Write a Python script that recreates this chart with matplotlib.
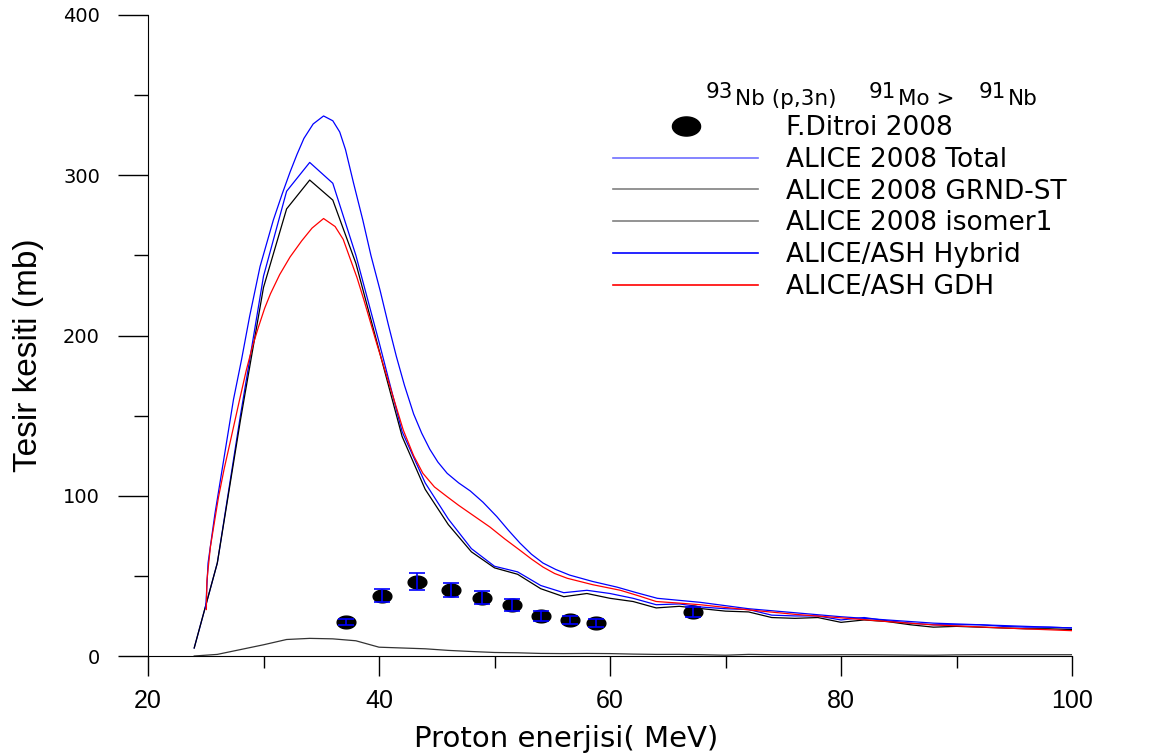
import numpy as np
import matplotlib
matplotlib.use('Agg')
import matplotlib.pyplot as plt
from matplotlib.path import Path
from matplotlib.lines import Line2D

# ALICE 2008 hesaplari (2 MeV adim)
e_alice = [24, 26, 28, 30, 32, 34, 36, 38, 40, 42, 44, 46, 48, 50, 52, 54, 56, 58, 60, 62,
           64, 66, 68, 70, 72, 74, 76, 78, 80, 82, 84, 86, 88, 90, 92, 94, 96, 98, 100]
alice_total = [5, 58, 150, 237, 290, 308, 295, 250, 196, 140, 108, 85.5, 67, 56, 52.5, 44, 39.5, 41, 39, 36,
               32, 32.5, 30.5, 29.5, 29, 25.5, 25, 25, 22.5, 24, 22, 20.5, 19.5, 19.5, 19.5, 18.5, 18, 18, 17.5]
alice_grnd = [5, 58, 147, 230, 279, 297, 284.5, 245, 191, 137, 104, 82, 65, 55, 51, 42, 37, 39, 36, 34,
              30, 31, 29.5, 28, 27.5, 24, 23.5, 24, 21, 22.5, 21.5, 19.5, 18, 18.5, 18, 17.5, 17, 17, 16.5]
alice_iso = [0, 1, 4, 7, 10.3, 11, 10.7, 9.5, 5.5, 5, 4.5, 3.5, 2.8, 2.2, 2, 1.6, 1.5, 1.6, 1.5, 1.2,
             1.0, 1.0, 0.8, 0.5, 1.0, 0.8, 0.7, 0.7, 0.8, 0.8, 0.7, 0.6, 0.5, 0.7, 0.8, 0.8, 0.8, 0.8, 0.8]

# ALICE/ASH Hybrid
e_hyb = [25.0, 25.2, 25.8, 26.5, 27.4, 28.1, 28.8, 29.7, 30.85, 31.6, 32.3, 32.9, 33.5, 34.3, 35.2, 36.0,
         36.6, 37.1, 37.8, 38.6, 39.3, 40.1, 40.8, 41.5, 42.2, 43.0, 43.7, 44.4, 45.1, 45.9, 46.9, 47.9,
         49.0, 50.2, 51.2, 52.2, 53.2, 54.2, 55.3, 56.5, 58.5, 60.6, 62.3, 64.1, 67.8, 72, 76, 80, 84, 88,
         94, 100]
hyb = [30, 58, 89, 120, 160, 185, 212, 243, 272, 288, 302, 313, 323, 332, 337, 334,
       327, 316, 295, 272, 250, 228, 207, 187, 169, 151, 139, 129, 121, 114, 108, 103,
       96, 87, 78.5, 70.5, 63.5, 58, 54, 50.5, 46.5, 43, 39.5, 36, 33.5, 29.5, 27, 24.5, 22.5, 20.5,
       19, 17.5]

# ALICE/ASH GDH
e_gdh = [25.05, 25.1, 25.4, 26.1, 26.6, 27.1, 27.9, 28.5, 29.0, 29.55, 30.1, 30.6, 31.4, 32.3, 33.3, 34.2,
         35.2, 36.2, 36.9, 37.5, 38.1, 38.7, 39.8, 41.0, 42.1, 43.0, 43.8, 44.8, 45.9, 46.9, 47.9, 49.6,
         50.9, 52.2, 53.2, 54.2, 55.2, 56.3, 58.5, 60.9, 62.5, 64, 66, 67.8, 72.1, 76, 80.2, 84, 88, 94, 100]
gdh = [29, 47, 68, 99, 117, 133, 159, 178, 192, 205, 217, 226, 238, 249, 259, 267,
       273, 268, 260, 248, 236, 222, 195, 167, 141, 125, 114, 105.5, 99.4, 94, 89, 80.5,
       73, 66, 60.5, 55.5, 51.5, 48.5, 44.5, 41, 37.5, 34, 33, 32, 28.7, 26, 23.7, 21.5, 19.4, 17.5, 15.8]

# F.Ditroi 2008 deney verisi
e_exp = [37.1, 40.3, 43.3, 46.2, 48.9, 51.5, 54.0, 56.5, 58.8, 67.2]
sig_exp = [21.4, 37.6, 46.4, 41.2, 36.4, 31.8, 25.2, 22.5, 20.8, 27.6]
err_exp = [2.0, 4.2, 5.2, 4.4, 4.0, 3.8, 3.1, 2.7, 2.6, 3.1]

legend_labels = ['F.Ditroi 2008', 'ALICE 2008 Total', 'ALICE 2008 GRND-ST', 'ALICE 2008 isomer1',
                 'ALICE/ASH Hybrid', 'ALICE/ASH GDH']

plt.rcParams['font.family'] = ['Liberation Sans', 'DejaVu Sans']

# elips seklinde isaret
t = np.linspace(0, 2 * np.pi, 60)
ellipse = Path(np.column_stack([np.cos(t), 0.68 * np.sin(t)]), closed=True)

W, H = 1164, 756
fig = plt.figure(figsize=(W / 100, H / 100), dpi=100)
ax = fig.add_axes([148 / W, 1 - 656 / H, (1072 - 148) / W, (656 - 15) / H])

lw = 0.9
ax.plot(e_alice, alice_total, color='blue', lw=lw)
ax.plot(e_alice, alice_grnd, color='black', lw=lw)
ax.plot(e_alice, alice_iso, color='#333333', lw=lw)
ax.plot(e_hyb, hyb, color='blue', lw=lw)
ax.plot(e_gdh, gdh, color='red', lw=lw)
ax.plot(e_exp, sig_exp, ls='none', marker=ellipse, ms=13.5, color='black', zorder=4)
eb = ax.errorbar(e_exp, sig_exp, yerr=err_exp, fmt='none', ecolor='blue', elinewidth=1.2,
                 capsize=5.5, capthick=1.2, zorder=5)
for cap in eb[1]:
    cap.set_color('#5c5cff')

ax.set_xlim(20, 100)
ax.set_ylim(0, 400)
for s in ['top', 'right']:
    ax.spines[s].set_visible(False)
ax.set_xticks([20, 40, 60, 80, 100])
ax.set_xticks([30, 50, 70, 90], minor=True)
ax.set_yticks([0, 100, 200, 300, 400])
ax.set_yticks([50, 150, 250, 350], minor=True)
ax.tick_params(axis='x', which='major', direction='out', length=14.4, width=1, pad=9)
ax.tick_params(axis='x', which='minor', direction='out', length=8.6, width=1)
ax.tick_params(axis='y', which='major', direction='out', length=21.6, width=1, pad=13)
ax.tick_params(axis='y', which='minor', direction='out', length=10, width=1)
for lb in ax.get_xticklabels():
    lb.set_fontsize(18)
for lb in ax.get_yticklabels():
    lb.set_fontfamily('DejaVu Sans')
    lb.set_fontsize(14)

ax.set_xlabel('Proton enerjisi( MeV)', fontsize=21, family='DejaVu Sans')
ax.xaxis.set_label_coords((566 - 148) / 924, -(725 - 656) / 641)
ax.xaxis.label.set_va('top')
ax.set_ylabel('Tesir kesiti (mb)', fontsize=24)
ax.yaxis.set_label_coords((44 - 148) / 924, (656 - 355) / 641)

# lejant
handles = [
    Line2D([], [], ls='none', marker=ellipse, ms=13.5, color='black'),
    Line2D([], [], color='#7070ff', lw=1.2),
    Line2D([], [], color='gray', lw=1.2),
    Line2D([], [], color='gray', lw=1.2),
    Line2D([], [], color='blue', lw=1.2),
    Line2D([], [], color='red', lw=1.2),
]
ax.legend(handles, legend_labels, loc='upper left', bbox_to_anchor=(613 / W, 1 - 115 / H),
          bbox_transform=fig.transFigure, frameon=False, prop={'family': 'DejaVu Sans', 'size': 19},
          handlelength=5.5, handletextpad=1.05, labelspacing=0.22, markerscale=1.5,
          borderpad=0, borderaxespad=0)

# baslik: 93Nb (p,3n) 91Mo > 91Nb
# her grup (ust indis + taban) referanstaki merkezine yerlestirilir
title_groups = [('93', 'Nb (p,3n)', 771), ('91', 'Mo >', 912), ('91', 'Nb', 1008)]
renderer = fig.canvas.get_renderer()
for sup, base, cx in title_groups:
    ts = fig.text(0, 0, sup, fontsize=15.5, family='DejaVu Sans', va='baseline')
    tb = fig.text(0, 0, base, fontsize=15.5, family='DejaVu Sans', va='baseline')
    ws = ts.get_window_extent(renderer).width
    wb = tb.get_window_extent(renderer).width
    x0 = cx - (ws + wb + 2) / 2
    ts.set_position((x0 / W, 1 - 98 / H))
    tb.set_position(((x0 + ws + 2) / W, 1 - 105 / H))

fig.savefig('out.png', dpi=100)
